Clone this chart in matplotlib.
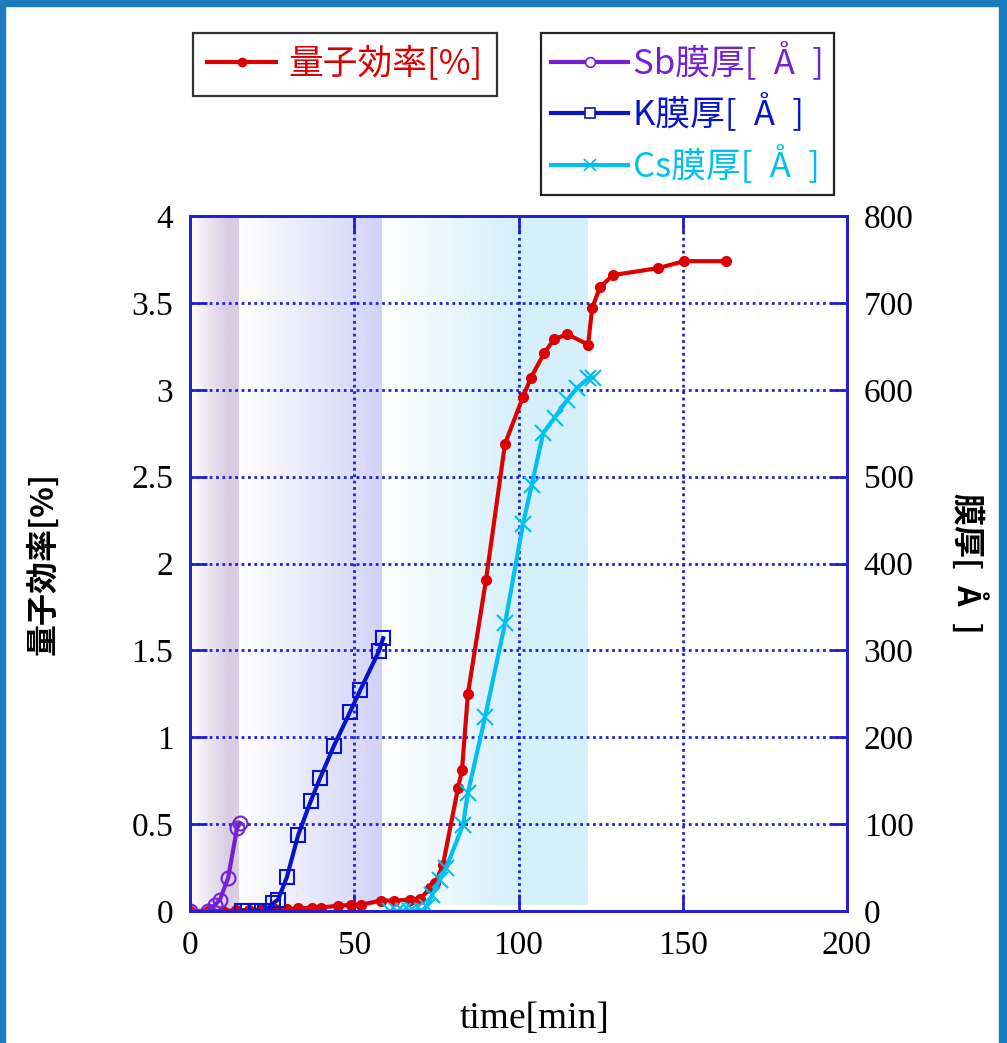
import numpy as np
import matplotlib
matplotlib.use("Agg")
import matplotlib.pyplot as plt
from matplotlib.lines import Line2D
from matplotlib.patches import Rectangle
from matplotlib.colors import to_rgb

plt.rcParams['font.family'] = ['Noto Sans CJK JP', 'DejaVu Sans']

# quantum efficiency [%] vs time [min]
qe_time = [0, 5.5, 10, 14, 18, 22, 26, 29.5, 33, 37, 40, 45, 49, 52, 58, 62,
           67, 70, 73.1, 74.6, 77, 81.6, 82.8, 84.6, 90.1, 95.9, 101.4, 103.8,
           107.8, 110.8, 114.8, 121.2, 122.4, 124.8, 128.8, 142.5, 150.4, 163.2]
qe = [0, 0, 0, 0.005, 0.005, 0.01, 0.01, 0.01, 0.015, 0.02, 0.02, 0.03, 0.035,
      0.035, 0.06, 0.06, 0.065, 0.07, 0.13, 0.16, 0.265, 0.71, 0.81, 1.25, 1.905,
      2.69, 2.96, 3.07, 3.21, 3.29, 3.32, 3.26, 3.47, 3.59, 3.66, 3.70, 3.74, 3.74]

# film thickness [A]
sb_time = [0, 5.5, 7.6, 9.1, 11.6, 14.3, 15.2]
sb_thick = [0, 0, 7, 13, 38, 95, 101]
k_time = [15.8, 17.7, 20.4, 22.8, 25.3, 26.8, 29.5, 32.9, 36.8, 39.6, 43.8,
          48.7, 51.8, 57.5, 58.8]
k_thick = [0, 0, 0, 0, 9, 13, 39, 87, 127, 153, 190, 229, 254, 299, 314]
cs_time = [60.9, 63, 64.8, 67, 68.2, 70.6, 72, 73.7, 76, 78, 83.1, 84.6, 89.8,
           95.9, 101.4, 104, 107.5, 111, 114.8, 117.8, 121.2, 122.7]
cs_thick = [0, 0, 0, 0, 0, 0, 5, 18, 36, 50, 99, 136, 223, 331, 446, 490, 550,
            568, 588, 602, 613, 614]

# deposition stages [min]
stage_start = [0, 15, 58.5]
stage_end = [15, 58.5, 121.2]

x_ticks = [0, 50, 100, 150, 200]
qe_ticks = [0, 0.5, 1, 1.5, 2, 2.5, 3, 3.5, 4]
qe_ticklabels = ['0', '0.5', '1', '1.5', '2', '2.5', '3', '3.5', '4']
th_ticks = [0, 100, 200, 300, 400, 500, 600, 700, 800]

RED = '#dd0000'
PURPLE = '#7222d2'
KBLUE = '#0814c8'
CYAN = '#00c0f0'
AXBLUE = '#2020d8'
stage_colors = ['#dacce3', '#d2d2f8', '#d6f0fb']
stage_ramp = [0.75, 1.0, 0.65]
stage_bottom = [0, 0.035, 0.035]

ANG = '[\u2002Å\u2002]'

W, H = 1007, 1043
fig = plt.figure(figsize=(W / 100, H / 100), dpi=100)
ax = fig.add_axes([190 / W, 1 - 911 / H, (847 - 190) / W, (911 - 216) / H])
ax2 = ax.twinx()


def shade(a, x0, x1, y0, y1, color, ramp):
    c = np.array(to_rgb(color))
    t = np.clip(np.linspace(0, 1, 256) / ramp, 0, 1)
    img = (1 - t)[:, None] * np.ones(3) + t[:, None] * c
    a.imshow(img[None, :, :], extent=(x0, x1, y0, y1), aspect='auto',
             zorder=0, interpolation='bilinear')


for s, e, c, r, b in zip(stage_start, stage_end, stage_colors, stage_ramp, stage_bottom):
    shade(ax, s, e, b, 4, c, r)

ax.plot(qe_time, qe, color=RED, lw=3, marker='o', ms=7, zorder=3)
ax2.plot(sb_time, sb_thick, color=PURPLE, lw=3, marker='o', ms=10,
         mfc='none', mew=1.5)
ax2.plot(k_time, k_thick, color=KBLUE, lw=3, marker='s', ms=10,
         mfc='none', mew=1.5)
ax2.plot(cs_time, cs_thick, color=CYAN, lw=3, marker='x', ms=11, mew=1.5)

ax.set_xlim(0, 200)
ax.set_ylim(0, 4)
ax2.set_ylim(0, 800)

ax.grid(True, color=AXBLUE, linestyle=(0, (1, 1.3)), linewidth=2)
ax.set_axisbelow(True)

ax.set_xticks(x_ticks, labels=[str(v) for v in x_ticks],
              family='Liberation Serif', fontsize=24)
ax.set_yticks(qe_ticks, labels=qe_ticklabels,
              family='Liberation Serif', fontsize=24)
ax2.set_yticks(th_ticks, labels=[str(v) for v in th_ticks],
               family='Liberation Serif', fontsize=24)

ax.tick_params(axis='x', direction='in', length=12, width=2, color=AXBLUE,
               top=True, pad=14)
ax.tick_params(axis='y', direction='in', length=12, width=2, color=AXBLUE,
               pad=12)
ax2.tick_params(axis='y', direction='in', length=12, width=2, color=AXBLUE,
                pad=12)
for a in (ax, ax2):
    for sp in a.spines.values():
        sp.set_color(AXBLUE)
        sp.set_linewidth(2)

ax.set_xlabel('time[min]', family='Liberation Serif', fontsize=27)
ax.xaxis.set_label_coords(0.525, -0.13)
ax.set_ylabel('量子効率[%]', fontsize=23, fontweight='bold', labelpad=52)
ax2.set_ylabel('膜厚' + ANG, fontsize=23, fontweight='bold', rotation=270,
               labelpad=52)

# legends
h_qe = Line2D([], [], color=RED, lw=3, marker='o', ms=6)
h_sb = Line2D([], [], color=PURPLE, lw=3, marker='o', ms=7, mfc='white', mew=1.2)
h_k = Line2D([], [], color=KBLUE, lw=3, marker='s', ms=7, mfc='white', mew=1.2)
h_cs = Line2D([], [], color=CYAN, lw=3, marker='x', ms=8, mew=1.2)

leg1 = fig.legend([h_qe], ['量子効率[%]'], loc='upper left',
                  bbox_to_anchor=(193 / W, 1 - 33 / H), fancybox=False,
                  edgecolor='#333333', framealpha=1, fontsize=25,
                  labelcolor=[RED], handlelength=2.0, handletextpad=0.35,
                  borderpad=0.4, borderaxespad=0)
leg1.get_frame().set_linewidth(1.6)
leg2 = fig.legend([h_sb, h_k, h_cs],
                  ['Sb膜厚' + ANG, 'K膜厚' + ANG, 'Cs膜厚' + ANG],
                  loc='upper left', bbox_to_anchor=(541 / W, 1 - 33 / H),
                  fancybox=False, edgecolor='#222222', framealpha=1,
                  fontsize=25, labelcolor=[PURPLE, KBLUE, CYAN],
                  handlelength=2.2, handletextpad=0.15, borderpad=0.3,
                  labelspacing=0.36, borderaxespad=0)
leg2.get_frame().set_linewidth(1.6)

# window frame
frame_c = '#1c7bbd'
fig.add_artist(Rectangle((0, 1 - 6 / H), 1, 6 / H, transform=fig.transFigure,
                         color=frame_c, zorder=10))
fig.add_artist(Rectangle((0, 0), 5 / W, 1, transform=fig.transFigure,
                         color=frame_c, zorder=10))
fig.add_artist(Rectangle((1 - 8 / W, 0), 8 / W, 1, transform=fig.transFigure,
                         color=frame_c, zorder=10))

fig.savefig('out.png', dpi=100)
